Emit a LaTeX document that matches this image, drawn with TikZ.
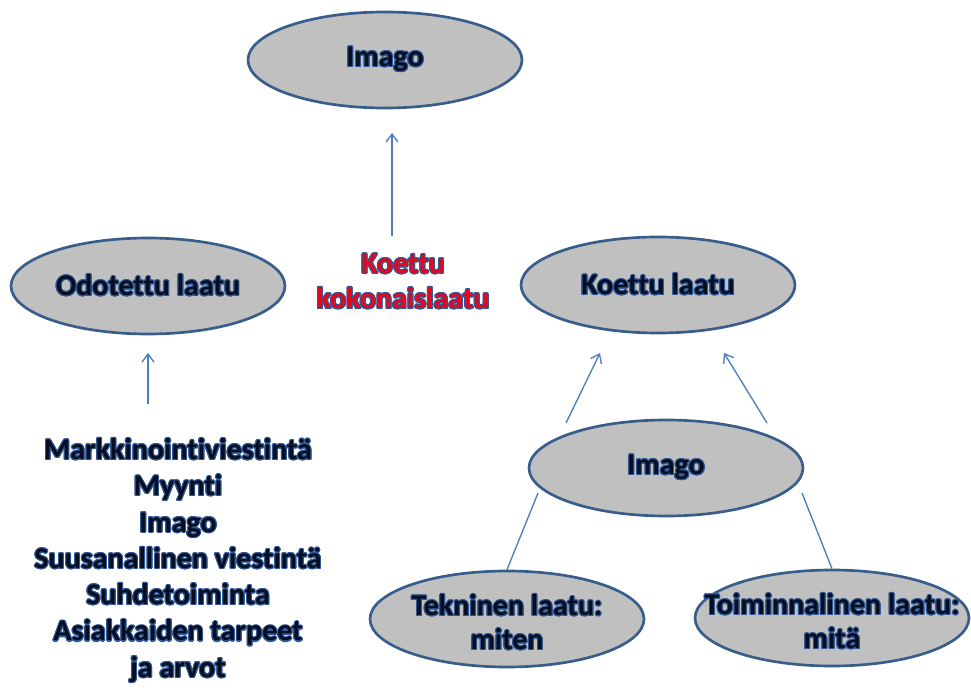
\documentclass[tikz,border=0pt]{standalone}
\usepackage{fontspec}
\setmainfont{Carlito}[Ligatures=NoCommon]
\usepackage{contour}
\usepackage{tikz}
\usetikzlibrary{positioning,shapes.geometric,arrows.meta,calc}

\definecolor{ellfill}{RGB}{192,192,192}
\definecolor{elldraw}{RGB}{56,93,138}
\definecolor{arrowblue}{RGB}{74,126,187}
\definecolor{glowblue}{RGB}{48,88,150}
\definecolor{textnavy}{RGB}{6,14,34}
\definecolor{labelred}{RGB}{228,8,30}
\contourlength{0.8pt}
\newcommand{\glowtext}[1]{\contour{glowblue}{#1}}

\tikzset{
  laatu/.style={ellipse, draw=elldraw, fill=ellfill, line width=2pt,
    minimum width=205.5pt, minimum height=72pt, inner sep=0pt},
  kirjain/.style={align=center, text=textnavy, inner sep=0pt,
    font=\bfseries\fontsize{22.5}{25.5}\selectfont},
  nuoli/.style={draw=arrowblue, line width=1pt, -{Straight Barb[length=6pt,width=9pt]}},
  viiva/.style={draw=arrowblue, line width=1pt},
}

\begin{document}
\begin{tikzpicture}[x=0.75pt,y=0.75pt,yscale=-1,xscale=1]
\useasboundingbox (0,0) rectangle (971,688);

%Ellipses
\node[laatu, label={[kirjain]center:\glowtext{Imago}}] (imagoA) at (385,60) {};
\node[laatu, label={[kirjain]center:\glowtext{Odotettu laatu}}] (odotettu) at (148,286) {};
\node[laatu, label={[kirjain]center:\glowtext{Koettu laatu}}] (koettu) at (658,285) {};
\node[laatu, label={[kirjain]center:\glowtext{Imago}}] (imagoB) at (666,468) {};
\node[laatu, label={[kirjain, yshift=-3pt]center:\glowtext{Tekninen laatu:}\\\glowtext{miten}}] (tekninen) at (507,619) {};
\node[laatu, label={[kirjain, yshift=-3pt]center:\glowtext{Toiminnalinen laatu:}\\\glowtext{mitä}}] (toiminnal) at (832,618) {};

%Texts
\node[kirjain, text=labelred, font=\bfseries\fontsize{22.5}{26.3}\selectfont] (kokonais) at (403,282)
  {\glowtext{Koettu}\\\glowtext{kokonaislaatu}};
\node[kirjain, font=\bfseries\fontsize{22.5}{27.2}\selectfont] (tekijat) at (178,561)
  {\glowtext{Markkinointiviestintä}\\\glowtext{Myynti}\\\glowtext{Imago}\\
   \glowtext{Suusanallinen viestintä}\\\glowtext{Suhdetoiminta}\\
   \glowtext{Asiakkaiden tarpeet}\\\glowtext{ja arvot}};

%Arrows
\draw[nuoli] ($(kokonais.center)+(-11,-46)$) -- ($(imagoA.center)+(7,73)$);
\draw[nuoli] ($(tekijat.center)+(-30,-157)$) -- ($(odotettu.center)+(0,67)$);
\draw[nuoli] ($(imagoB.center)+(-100,-45)$) -- ($(koettu.center)+(-58,68)$);
\draw[nuoli] ($(imagoB.center)+(101,-45)$) -- ($(koettu.center)+(66,68)$);

%Lines
\draw[viiva] ($(imagoB.center)+(-128,25)$) -- (tekninen.north);
\draw[viiva] ($(imagoB.center)+(136,25)$) -- (toiminnal.north);

\end{tikzpicture}
\end{document}
